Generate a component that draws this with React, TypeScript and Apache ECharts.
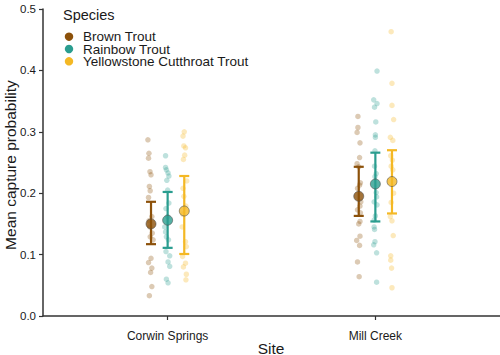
import React, { useEffect, useRef } from "react";
import * as echarts from "echarts";

const sites = ["Corwin Springs", "Mill Creek"];
const species = ["Brown Trout", "Rainbow Trout", "Yellowstone Cutthroat Trout"];
const colors = ["#8C510A", "#2A9D8F", "#F4B824"];
const yTicks = [0, 0.1, 0.2, 0.3, 0.4, 0.5];

// mean capture probability [Corwin, Mill]
const brownMean = [0.150, 0.195];
const rainbowMean = [0.156, 0.215];
const cutthroatMean = [0.171, 0.219];
// error bars [low, high]
const brownCI = [[0.117, 0.186], [0.163, 0.243]];
const rainbowCI = [[0.111, 0.202], [0.154, 0.266]];
const cutthroatCI = [[0.101, 0.228], [0.167, 0.270]];

// raw points: [value, jitter]
const brownCorwin = [[0.287,-0.015],[0.265,-0.01],[0.257,-0.012],[0.235,-0.005],[0.23,0.0],[0.211,-0.008],[0.204,-0.004],[0.193,-0.012],[0.162,0.004],[0.155,-0.01],[0.145,-0.006],[0.135,0.006],[0.129,-0.004],[0.124,0.01],[0.094,0.0],[0.087,-0.012],[0.078,0.004],[0.071,-0.002],[0.048,0.004],[0.033,-0.008]];
const rainbowCorwin = [[0.261,-0.01],[0.242,-0.01],[0.238,-0.006],[0.233,0.002],[0.228,0.006],[0.221,-0.004],[0.205,0.0],[0.184,0.006],[0.175,-0.008],[0.162,0.0],[0.145,-0.014],[0.137,-0.01],[0.129,-0.006],[0.124,0.004],[0.105,-0.008],[0.098,0.01],[0.088,0.002],[0.081,0.01],[0.06,-0.006],[0.054,0.002]];
const cutthroatCorwin = [[0.3,0.0],[0.293,-0.006],[0.277,-0.002],[0.274,0.006],[0.262,0.002],[0.255,-0.004],[0.22,0.012],[0.208,-0.006],[0.195,-0.002],[0.179,0.008],[0.166,-0.008],[0.145,-0.01],[0.121,0.006],[0.113,0.01],[0.097,-0.008],[0.086,0.006],[0.08,-0.004],[0.068,0.01],[0.059,0.008]];
const brownMill = [[0.325,-0.004],[0.307,-0.004],[0.299,-0.008],[0.282,0.006],[0.258,0.004],[0.248,-0.008],[0.243,0.0],[0.217,0.008],[0.213,0.004],[0.208,-0.006],[0.186,0.01],[0.179,0.006],[0.173,-0.006],[0.168,0.008],[0.154,0.006],[0.15,0.0],[0.13,0.006],[0.123,-0.01],[0.115,0.004],[0.088,-0.006],[0.064,0.002]];
const rainbowMill = [[0.399,0.008],[0.352,-0.008],[0.346,0.008],[0.34,-0.004],[0.316,0.002],[0.295,0.0],[0.291,0.0],[0.269,-0.002],[0.244,-0.004],[0.232,0.004],[0.227,-0.002],[0.201,0.004],[0.194,0.006],[0.186,-0.006],[0.181,0.008],[0.163,0.0],[0.156,-0.006],[0.145,-0.006],[0.141,-0.004],[0.121,-0.002],[0.116,-0.008],[0.103,0.006],[0.055,0.006]];
const cutthroatMill = [[0.463,-0.004],[0.379,0.0],[0.343,0.0],[0.32,0.008],[0.291,-0.008],[0.286,0.004],[0.261,-0.006],[0.254,0.002],[0.244,-0.004],[0.238,0.004],[0.2,0.008],[0.185,-0.004],[0.162,-0.008],[0.155,0.0],[0.131,0.006],[0.098,-0.006],[0.091,-0.006],[0.078,-0.002],[0.046,0.0]];

const means = [brownMean, rainbowMean, cutthroatMean];
const cis = [brownCI, rainbowCI, cutthroatCI];
const raw = [
  [brownCorwin, brownMill],
  [rainbowCorwin, rainbowMill],
  [cutthroatCorwin, cutthroatMill],
];

const dodge = [-0.08, 0, 0.08];
const FONT = "Liberation Sans, Arial, sans-serif";

function hexA(hex: string, a: number) {
  const r = parseInt(hex.slice(1, 3), 16);
  const g = parseInt(hex.slice(3, 5), 16);
  const b = parseInt(hex.slice(5, 7), 16);
  return `rgba(${r},${g},${b},${a})`;
}

export default function App() {
  const ref = useRef<HTMLDivElement>(null);
  useEffect(() => {
    if (!ref.current) return;
    const chart = echarts.init(ref.current, undefined, { renderer: "svg" });
    const series: any[] = [];
    species.forEach((sp, i) => {
      const pts: number[][] = [];
      raw[i].forEach((arr, s) => {
        arr.forEach(([v, j]) => pts.push([s + 1 + dodge[i] + j, v]));
      });
      series.push({
        type: "scatter",
        name: sp + " raw",
        data: pts,
        symbolSize: 5.5,
        itemStyle: { color: hexA(colors[i], 0.38) },
        silent: true,
        z: 1,
      });
    });
    species.forEach((sp, i) => {
      series.push({
        type: "custom",
        name: sp + " ci",
        data: cis[i].map((c, s) => [s + 1 + dodge[i], c[0], c[1]]),
        renderItem: (params: any, api: any) => {
          const x = api.value(0);
          const lo = api.coord([x, api.value(1)]);
          const hi = api.coord([x, api.value(2)]);
          const w = 5;
          const style = { stroke: colors[i], lineWidth: 2.2 };
          return {
            type: "group",
            children: [
              { type: "line", shape: { x1: lo[0], y1: lo[1], x2: hi[0], y2: hi[1] }, style },
              { type: "line", shape: { x1: lo[0] - w, y1: lo[1], x2: lo[0] + w, y2: lo[1] }, style },
              { type: "line", shape: { x1: hi[0] - w, y1: hi[1], x2: hi[0] + w, y2: hi[1] }, style },
            ],
          };
        },
        z: 2,
        silent: true,
      });
    });
    species.forEach((sp, i) => {
      series.push({
        type: "scatter",
        name: sp,
        data: means[i].map((m, s) => [s + 1 + dodge[i], m]),
        symbolSize: 10,
        itemStyle: { color: colors[i], borderColor: "#4a4a4a", borderWidth: 0.7 },
        z: 3,
      });
    });

    const legendItems: any[] = [];
    species.forEach((sp, i) => {
      const cy = 36.7 + i * 12.3;
      legendItems.push({
        type: "circle",
        shape: { cx: 69, cy, r: 4.2 },
        style: { fill: colors[i] },
      });
      legendItems.push({
        type: "text",
        x: 83,
        y: cy,
        style: { text: sp, fontSize: 13.5, lineHeight: 12, fill: "#1a1a1a", fontFamily: FONT, align: "left", verticalAlign: "middle" },
      });
    });

    chart.setOption({
      animation: false,
      textStyle: { fontFamily: FONT },
      grid: { left: 43, right: 0, top: 9, bottom: 39, containLabel: false, outerBoundsMode: "none" },
      graphic: [
        {
          type: "text",
          left: 63,
          top: 7,
          style: { text: "Species", fontSize: 14.5, fill: "#1a1a1a", fontFamily: FONT },
        },
        ...legendItems,
        {
          type: "text",
          x: 271,
          y: 348,
          style: { text: "Site", fontSize: 15.5, fill: "#1a1a1a", fontFamily: FONT, align: "center", verticalAlign: "middle" },
        },
        {
          type: "text",
          x: 10,
          y: 165,
          rotation: Math.PI / 2,
          style: { text: "Mean capture probability", fontSize: 15.5, fill: "#1a1a1a", fontFamily: FONT, align: "center", verticalAlign: "middle" },
        },
      ],
      xAxis: {
        type: "value",
        min: 0.4,
        max: 2.6,
        axisLine: { lineStyle: { color: "#333", width: 1.5 } },
        axisTick: { show: true, customValues: [1, 2], length: 4, lineStyle: { color: "#333", width: 1.2 } },
        axisLabel: {
          customValues: [1, 2],
          formatter: (v: number) => sites[Math.round(v) - 1],
          fontSize: 12,
          color: "#1a1a1a",
          margin: 14,
          fontFamily: FONT,
        },
        splitLine: { show: false },
      },
      yAxis: {
        type: "value",
        min: 0,
        max: 0.5,
        interval: 0.1,
        axisLine: { show: true, lineStyle: { color: "#333", width: 1.5 } },
        axisTick: { show: true, length: 4, lineStyle: { color: "#333", width: 1.2 } },
        axisLabel: {
          formatter: (v: number) => v.toFixed(1),
          fontSize: 11.5,
          color: "#1a1a1a",
          margin: 7,
          fontFamily: FONT,
          customValues: yTicks,
        },
        splitLine: { show: false },
      },
      series,
    });
    return () => chart.dispose();
  }, []);
  return <div ref={ref} style={{ width: 500, height: 355, position: "absolute", left: 0, top: 0 }} />;
}
